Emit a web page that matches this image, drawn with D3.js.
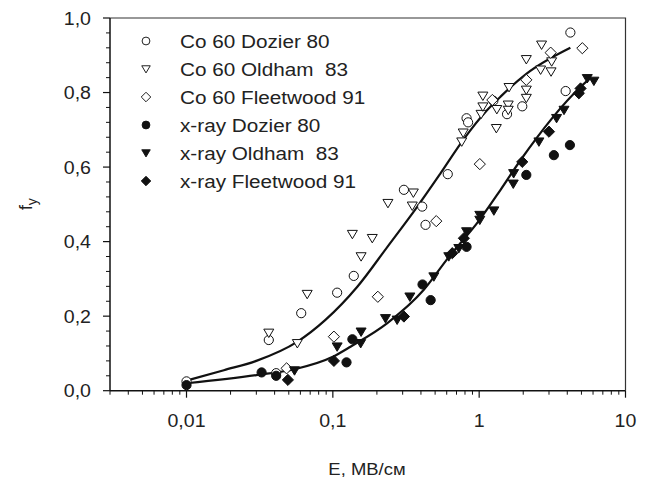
<!DOCTYPE html>
<html>
<head>
<meta charset="utf-8">
<script src="https://cdnjs.cloudflare.com/ajax/libs/d3/7.8.5/d3.min.js"></script>
<style>
  body { margin: 0; background: #fff; }
  text { font-family: Arial, "Liberation Sans", sans-serif; fill: #222; }
</style>
</head>
<body>
<div id="chart"></div>
<script>
'use strict';

const w = 649;
const h = 479;

// series: [E, fy]
const co60Dozier = [[0.01, 0.025], [0.0365, 0.136], [0.041, 0.047], [0.0608, 0.208], [0.107, 0.263], [0.139, 0.308], [0.306, 0.539], [0.408, 0.494], [0.43, 0.445], [0.61, 0.581], [0.82, 0.731], [0.84, 0.72], [1.25, 0.778], [1.55, 0.742], [1.97, 0.763], [3.9, 0.804], [4.2, 0.961]];
const co60Oldham = [[0.0365, 0.155], [0.0572, 0.127], [0.0668, 0.259], [0.136, 0.42], [0.156, 0.36], [0.186, 0.409], [0.238, 0.503], [0.355, 0.531], [0.349, 0.496], [0.76, 0.668], [0.778, 0.692], [1.03, 0.742], [1.06, 0.791], [1.06, 0.762], [1.31, 0.704], [1.32, 0.755], [1.58, 0.767], [1.58, 0.753], [1.6, 0.814], [2.1, 0.889], [2.1, 0.807], [2.1, 0.785], [2.63, 0.861], [2.67, 0.928], [3.1, 0.856], [3.13, 0.883]];
const co60Fleetwood = [[0.0483, 0.06], [0.1017, 0.145], [0.203, 0.252], [0.509, 0.455], [1.01, 0.608], [1.23, 0.78], [2.1, 0.834], [3.08, 0.907], [5.07, 0.919]];
const xrayDozier = [[0.01, 0.015], [0.0326, 0.049], [0.041, 0.04], [0.124, 0.076], [0.136, 0.138], [0.41, 0.285], [0.466, 0.243], [0.82, 0.386], [2.1, 0.579], [3.24, 0.632], [4.17, 0.659]];
const xrayOldham = [[0.0547, 0.054], [0.107, 0.118], [0.156, 0.158], [0.155, 0.127], [0.229, 0.194], [0.275, 0.19], [0.336, 0.252], [0.49, 0.306], [0.62, 0.36], [0.726, 0.382], [0.82, 0.427], [1.01, 0.458], [1.01, 0.471], [1.26, 0.483], [1.71, 0.555], [1.72, 0.583], [2.56, 0.668], [3.38, 0.731], [3.8, 0.753], [5.48, 0.838], [6.08, 0.831]];
const xrayFleetwood = [[0.0493, 0.029], [0.1017, 0.08], [0.306, 0.199], [0.655, 0.369], [0.786, 0.409], [1.97, 0.614], [3.0, 0.695], [4.8, 0.798], [4.93, 0.811]];

// fitted curves
const co60Fit = [[0.01, 0.027], [0.018, 0.055], [0.03, 0.08], [0.057, 0.131], [0.089, 0.19], [0.147, 0.279], [0.236, 0.386], [0.378, 0.494], [0.544, 0.583], [0.785, 0.675], [1.135, 0.753], [1.4, 0.789], [2.1, 0.85], [4.2, 0.92]];
const xrayFit = [[0.01, 0.02], [0.03, 0.042], [0.054, 0.057], [0.1, 0.091], [0.132, 0.118], [0.237, 0.182], [0.417, 0.27], [0.61, 0.355], [1.0, 0.457], [1.4, 0.539], [1.92, 0.619], [4.93, 0.815], [5.8, 0.84]];

const legendNames = ["Co 60 Dozier 80", "Co 60 Oldham  83", "Co 60 Fleetwood 91", "x-ray Dozier 80", "x-ray Oldham  83", "x-ray Fleetwood 91"];
const xTickValues = [0.01, 0.1, 1, 10];
const xTickLabels = ["0,01", "0,1", "1", "10"];
const yTickValues = [0, 0.2, 0.4, 0.6, 0.8, 1.0];
const yTickLabels = ["0,0", "0,2", "0,4", "0,6", "0,8", "1,0"];

const sx = 1.12; // text looks horizontally stretched in the picture

const svg = d3.select("#chart").append("svg").
attr("width", w).
attr("height", h);

const x = d3.scaleLog().domain([0.003, 10]).range([110, 625.5]);
const y = d3.scaleLinear().domain([0, 1]).range([390.7, 18]);

// marker paths centered on 0,0
const shapes = {
  circle: "M4.6,0A4.6,4.6 0 1,1 -4.6,0A4.6,4.6 0 1,1 4.6,0Z",
  tri: "M-5,-3.8L5,-3.8L0,4.6Z",
  diamond: "M0,-5.6L5.6,0L0,5.6L-5.6,0Z"
};

const series = [
  { data: co60Dozier, shape: "circle", filled: false },
  { data: co60Oldham, shape: "tri", filled: false },
  { data: co60Fleetwood, shape: "diamond", filled: false },
  { data: xrayDozier, shape: "circle", filled: true },
  { data: xrayOldham, shape: "tri", filled: true },
  { data: xrayFleetwood, shape: "diamond", filled: true }];


function stretched(sel, px, py) {
  return sel.attr("transform", `translate(${px},${py}) scale(${sx},1)`);
}

// frame (top + right)
svg.append("path").
attr("d", `M${x(0.003)},${y(1)}H${x(10)}V${y(0)}`).
attr("fill", "none").
attr("stroke", "#333").
attr("stroke-width", 1.2);

// x axis
const xAxis = svg.append("g");
xAxis.append("line").
attr("x1", x(0.003)).attr("x2", x(10)).
attr("y1", y(0)).attr("y2", y(0)).
attr("stroke", "#111").attr("stroke-width", 1.5);

const xMinor = x.ticks(20).filter(d => xTickValues.indexOf(d) < 0);
xAxis.selectAll(".xminor").data(xMinor).enter().append("line").
attr("x1", d => x(d)).attr("x2", d => x(d)).
attr("y1", y(0)).attr("y2", y(0) + 4).
attr("stroke", "#111").attr("stroke-width", 1);

xAxis.selectAll(".xmajor").data(xTickValues).enter().append("line").
attr("x1", d => x(d)).attr("x2", d => x(d)).
attr("y1", y(0)).attr("y2", y(0) + 7).
attr("stroke", "#111").attr("stroke-width", 1.2);

xAxis.selectAll(".xlabel").data(xTickValues).enter().append("text").
each(function (d) {stretched(d3.select(this), x(d), 427);}).
attr("text-anchor", "middle").
attr("font-size", 17.5).
text((d, i) => xTickLabels[i]);

// y axis
const yAxis = svg.append("g");
yAxis.append("line").
attr("x1", x(0.003)).attr("x2", x(0.003)).
attr("y1", y(0)).attr("y2", y(1)).
attr("stroke", "#111").attr("stroke-width", 1.5);

const yMinor = d3.range(0, 1.0001, 0.04).filter(v => Math.abs(v * 5 - Math.round(v * 5)) > 1e-6);
yAxis.selectAll(".yminor").data(yMinor).enter().append("line").
attr("x1", x(0.003) - 4).attr("x2", x(0.003)).
attr("y1", d => y(d)).attr("y2", d => y(d)).
attr("stroke", "#111").attr("stroke-width", 1);

yAxis.selectAll(".ymajor").data(yTickValues).enter().append("line").
attr("x1", x(0.003) - 7).attr("x2", x(0.003)).
attr("y1", d => y(d)).attr("y2", d => y(d)).
attr("stroke", "#111").attr("stroke-width", 1.2);

yAxis.selectAll(".ylabel").data(yTickValues).enter().append("text").
each(function (d) {stretched(d3.select(this), 91, y(d) + 6.5);}).
attr("text-anchor", "end").
attr("font-size", 17.5).
text((d, i) => yTickLabels[i]);

// axis titles
const yTitle = svg.append("text").
attr("transform", "translate(32,210) rotate(-90)").
attr("font-size", 17.5);
yTitle.append("tspan").text("f");
yTitle.append("tspan").attr("dy", 5).attr("font-size", 14).text("y");

stretched(svg.append("text"), 367, 475).
attr("text-anchor", "middle").
attr("font-size", 16.5).
text("E, МВ/см");

// fitted curves
const line = d3.line().
x(d => x(d[0])).
y(d => y(d[1])).
curve(d3.curveMonotoneX);

[co60Fit, xrayFit].forEach(fit => {
  svg.append("path").
  attr("d", line(fit)).
  attr("fill", "none").
  attr("stroke", "#111").
  attr("stroke-width", 2.2);
});

// markers
series.forEach(s => {
  svg.append("g").selectAll("path").
  data(s.data).
  enter().
  append("path").
  attr("d", shapes[s.shape]).
  attr("transform", d => `translate(${x(d[0])},${y(d[1])})`).
  attr("fill", s.filled ? "#111" : "#fff").
  attr("stroke", "#111").
  attr("stroke-width", 1);
});

// legend
const legendRows = [41, 69, 97, 125, 153, 181];
const legend = svg.append("g");
series.forEach((s, i) => {
  legend.append("path").
  attr("d", shapes[s.shape]).
  attr("transform", `translate(146,${legendRows[i]}) scale(0.85)`).
  attr("fill", s.filled ? "#111" : "#fff").
  attr("stroke", "#111").
  attr("stroke-width", 1.1);

  stretched(legend.append("text"), 180, legendRows[i] + 7).
  attr("font-size", 18.5).
  attr("xml:space", "preserve").
  style("white-space", "pre").
  text(legendNames[i]);
});
</script>
</body>
</html>
